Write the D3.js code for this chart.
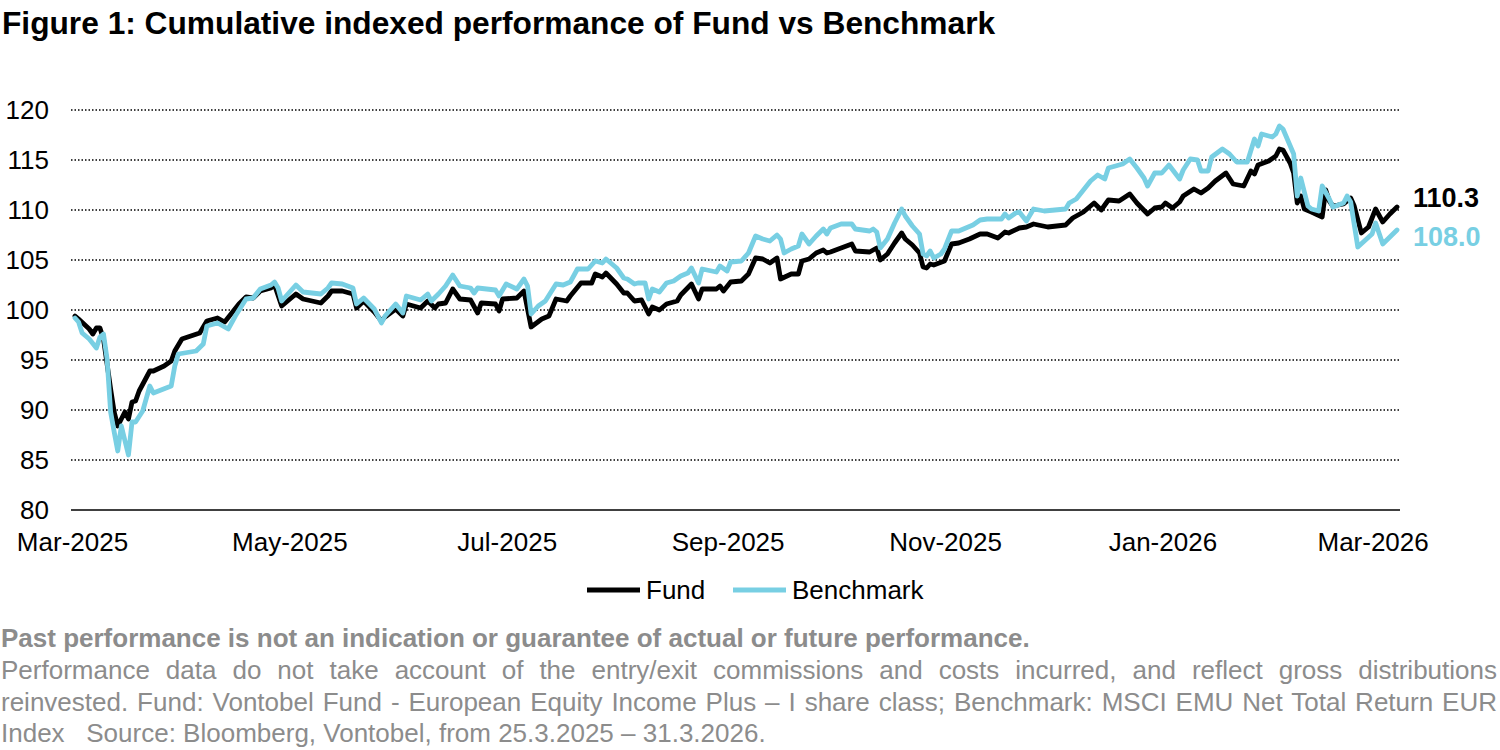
<!DOCTYPE html>
<html><head><meta charset="utf-8">
<script src="https://cdn.jsdelivr.net/npm/d3@7"></script>
<style>
html,body{margin:0;padding:0;background:#fff;}
svg{display:block;font-family:"Liberation Sans",Arial,sans-serif;}
</style></head><body>
<svg id="chart" width="1500" height="750"></svg>
<script>
// ---------------- data ----------------
const startDate = "2025-03-25";
const endDate = "2026-03-31";
const fundDays = [0,1,4,5,6,7,8,10,11,12,14,15,16,17,18,21,22,25,27,28,30,35,37,40,42,44,46,48,50,52,55,56,58,62,64,69,71,72,75,78,79,81,84,86,87,90,92,93,97,99,101,102,104,106,108,111,113,114,118,119,120,124,126,128,131,133,135,138,139,142,145,146,148,149,152,154,155,157,159,161,162,164,166,169,170,173,175,176,180,181,182,184,187,189,191,193,195,197,198,201,203,204,206,208,210,211,212,215,218,219,223,225,226,228,230,232,233,235,237,238,239,240,241,244,246,248,251,254,256,259,261,262,265,267,269,273,278,280,283,286,288,290,293,296,298,301,303,305,306,308,310,311,314,316,318,320,323,325,328,330,331,332,335,337,338,339,341,342,343,344,345,347,350,351,352,353,356,358,359,361,363,365,367,369,371];
const fundValues = [99.4,99.1,98.1,97.6,98.2,98.2,97.1,92.1,89.8,88.4,89.8,89.1,90.8,90.9,91.9,93.9,93.9,94.4,94.9,95.9,97.1,97.7,98.9,99.2,98.8,99.7,100.6,101.3,101.2,101.9,102.2,102.5,100.4,101.6,101.1,100.7,101.4,101.9,101.9,101.6,100.2,100.9,99.8,98.9,99.3,100.1,99.4,100.6,100.2,100.9,100.2,100.6,100.7,102.1,101.1,101.0,99.7,100.7,100.6,99.9,101.1,101.2,101.9,98.3,99.1,99.4,101.1,100.9,101.4,102.7,102.7,103.6,103.3,103.7,102.6,101.7,101.7,100.9,101.0,99.6,100.3,100.0,100.6,100.9,101.5,102.6,101.1,102.1,102.1,102.4,101.9,102.8,102.9,103.6,105.2,105.1,104.7,105.2,103.1,103.6,103.6,104.9,105.1,105.7,106.0,105.7,105.8,106.2,106.6,105.9,105.8,106.2,105.0,105.6,106.7,107.7,107.1,106.5,105.7,104.3,104.2,104.6,104.5,104.9,106.6,106.7,107.1,107.6,107.6,107.2,107.8,107.7,108.2,108.3,108.6,108.3,108.5,109.2,109.8,110.7,110.0,111.0,110.9,111.6,110.7,109.6,110.2,110.3,110.7,110.2,110.8,111.4,112.1,111.7,112.2,112.9,113.7,112.6,112.4,113.9,113.6,114.5,114.9,115.4,116.1,116.0,114.7,113.7,110.7,111.4,110.1,109.8,109.3,112.0,110.9,110.4,110.6,111.2,110.4,107.7,108.3,110.1,108.8,109.6,110.3];
const benchDays = [0,1,2,4,6,7,8,9,10,11,12,13,15,16,17,19,21,22,27,28,29,34,36,37,40,43,45,48,50,52,55,56,57,58,60,62,64,69,71,72,75,78,79,81,84,86,87,90,92,93,97,99,100,102,104,106,108,111,112,113,118,119,121,124,126,127,128,130,132,135,137,139,141,144,146,148,149,152,154,155,157,158,160,161,162,164,166,168,170,172,173,175,176,180,181,183,184,187,189,191,193,195,197,198,199,201,203,204,206,208,210,211,212,215,218,219,223,224,225,226,228,230,232,233,235,237,238,239,240,241,243,244,246,248,250,252,254,256,260,261,262,264,265,267,269,272,278,279,281,285,287,289,290,294,296,298,300,301,303,305,307,310,311,313,315,316,318,319,322,324,326,329,331,332,333,336,337,338,339,342,343,344,346,347,349,350,352,353,356,357,358,360,364,365,367,369,371];
const benchValues = [99.2,98.8,97.7,97.1,96.2,97.3,97.6,95.1,89.8,87.8,85.9,88.4,85.5,88.8,88.8,89.9,92.4,91.7,92.4,94.4,95.6,95.9,96.6,98.4,98.7,98.1,99.4,101.1,101.2,102.1,102.5,102.8,102.2,100.9,101.7,102.5,101.8,101.6,102.2,102.7,102.6,102.2,100.6,101.2,100.1,98.7,99.4,100.6,99.7,101.4,101.0,101.6,100.9,101.6,102.4,103.5,102.4,102.2,101.7,102.2,102.0,101.4,102.6,102.1,103.1,102.4,99.6,100.4,100.9,102.6,102.5,102.8,104.1,104.1,104.9,104.7,105.1,104.2,103.2,103.1,102.6,102.7,102.7,101.1,102.1,101.8,102.7,102.9,103.4,103.7,104.2,102.7,104.1,103.8,104.4,103.9,104.8,104.9,105.7,107.4,107.1,106.9,107.5,107.1,105.7,106.1,106.4,107.6,106.6,107.4,108.1,107.6,108.2,108.6,108.6,108.1,107.9,108.1,107.8,106.2,107.1,108.7,110.1,109.4,108.4,107.6,105.6,105.4,105.9,105.2,105.6,106.1,107.9,107.9,108.2,108.5,109.0,109.1,109.1,109.6,109.2,109.7,109.8,108.9,110.1,109.9,110.1,110.7,111.1,112.9,113.5,113.1,114.2,114.6,115.1,114.2,113.2,112.4,113.7,113.7,114.5,113.1,114.0,115.1,115.0,113.9,113.9,115.3,116.1,115.6,114.8,114.8,117.1,116.4,117.6,117.3,117.6,118.4,118.1,115.6,111.4,113.2,110.4,110.1,109.9,112.4,111.1,110.3,110.7,111.4,110.8,106.3,107.6,108.7,106.6,107.3,108.0];
const xTickDates = ["2025-03-25","2025-05-25","2025-07-25","2025-09-25","2025-11-25","2026-01-25","2026-03-25"];
const yTicks = [80,85,90,95,100,105,110,115,120];
const seriesNames = ["Fund","Benchmark"];
const seriesColors = ["#000000","#78cfe3"];
const endLabels = ["110.3","108.0"];
const titleText = "Figure 1: Cumulative indexed performance of Fund vs Benchmark";
const noteBold = "Past performance is not an indication or guarantee of actual or future performance.";
const noteLines = [
  "Performance data do not take account of the entry/exit commissions and costs incurred, and reflect gross distributions",
  "reinvested. Fund: Vontobel Fund - European Equity Income Plus \u2013 I share class; Benchmark: MSCI EMU Net Total Return EUR",
  "Index   Source: Bloomberg, Vontobel, from 25.3.2025 \u2013 31.3.2026."
];

// ---------------- chart ----------------
const svg = d3.select("#chart");
const parse = d3.utcParse("%Y-%m-%d");
const t0 = parse(startDate);
const toPts = (days, vals) => days.map((d,i)=>({date:d3.utcDay.offset(t0,d), value:vals[i]}));
const series = [toPts(fundDays,fundValues), toPts(benchDays,benchValues)];

const plotL = 71, plotR = 1400;
const x = d3.scaleUtc().domain([t0, parse(endDate)]).range([75, 1397]);
const y = d3.scaleLinear().domain([80,120]).range([510,110]);

// title
svg.append("text").attr("x",2).attr("y",34)
  .attr("font-size",31.7).attr("font-weight","bold").attr("fill","#000").text(titleText);

// gridlines
svg.append("g").selectAll("line").data(yTicks.filter(v=>v>80)).join("line")
  .attr("x1",plotL).attr("x2",plotR).attr("y1",d=>y(d)).attr("y2",d=>y(d))
  .attr("stroke","#000").attr("stroke-width",1.3).attr("stroke-dasharray","1.5,2");

// y labels
svg.append("g").selectAll("text").data(yTicks).join("text")
  .attr("x",49).attr("y",d=>y(d)).attr("dy","0.36em").attr("text-anchor","end")
  .attr("font-size",26).attr("fill","#000").text(d=>d);

// x axis
const xAxis = d3.axisBottom(x).tickValues(xTickDates.map(parse))
  .tickFormat(d3.utcFormat("%b-%Y")).tickSize(0).tickPadding(23);
const gx = svg.append("g").attr("transform",`translate(0,${y(80)})`).call(xAxis);
gx.select(".domain").remove();
gx.selectAll("text").attr("font-size",26).attr("fill","#000").attr("font-family",null).attr("dx",-3);
svg.append("line").attr("x1",plotL).attr("x2",plotR).attr("y1",y(80)).attr("y2",y(80))
  .attr("stroke","#000").attr("stroke-width",1.5);

// lines
const line = d3.line().x(d=>x(d.date)).y(d=>y(d.value));
svg.append("g").selectAll("path").data(series).join("path")
  .attr("d",line).attr("fill","none")
  .attr("stroke",(d,i)=>seriesColors[i]).attr("stroke-width",4.8)
  .attr("stroke-linejoin","round").attr("stroke-linecap","round");

// end labels
const endOffsets = [-10, 6];
svg.append("g").selectAll("text").data(series).join("text")
  .attr("x",1413).attr("y",(d,i)=>y(d[d.length-1].value)+endOffsets[i]).attr("dy","0.36em")
  .attr("font-size",27).attr("font-weight","bold")
  .attr("fill",(d,i)=>seriesColors[i]).text((d,i)=>endLabels[i]);

// legend
const legX = [587, 733];
const lg = svg.append("g").selectAll("g").data(seriesNames).join("g")
  .attr("transform",(d,i)=>`translate(${legX[i]},590)`);
lg.append("line").attr("x1",0).attr("x2",53).attr("stroke",(d,i)=>seriesColors[i]).attr("stroke-width",4.8);
lg.append("text").attr("x",59).attr("dy","0.36em").attr("font-size",26).attr("fill","#000").text(d=>d);

// notes
const noteColor = "#8c8c8c";
svg.append("text").attr("x",1).attr("y",647).attr("font-size",26).attr("font-weight","bold")
  .attr("fill",noteColor).text(noteBold);
const noteY = [679, 711, 742];
noteLines.forEach((t,i)=>{
  const el = svg.append("text").attr("x",1).attr("y",noteY[i]).attr("font-size",26)
    .attr("fill",noteColor).style("white-space","pre").text(t);
  if (i < noteLines.length-1) {
    const w = el.node().getComputedTextLength();
    const spaces = (t.match(/ /g)||[]).length;
    el.attr("word-spacing", Math.max(0,(1497 - 1 - w)/spaces));
  }
});
</script>
</body></html>
